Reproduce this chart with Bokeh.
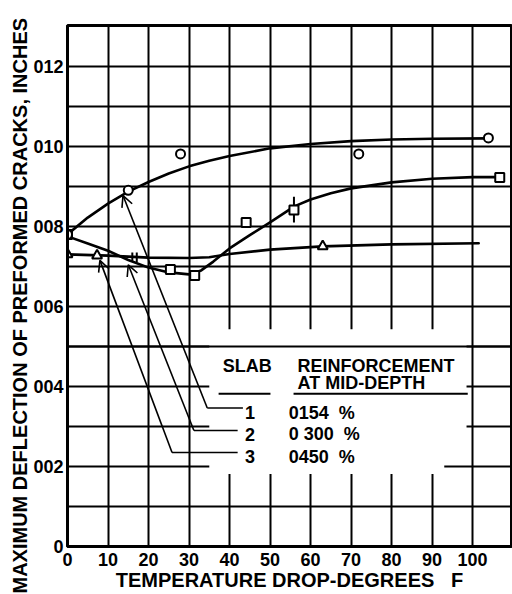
from bokeh.plotting import figure
from bokeh.models import (FixedTicker, CustomJSTickFormatter, Title, Arrow, OpenHead,
                          ColumnDataSource, Span)
from bokeh.core.properties import value
from bokeh.embed import file_html
from bokeh.resources import INLINE

# ---------------- data ----------------
X_TICKS = [0, 10, 20, 30, 40, 50, 60, 70, 80, 90, 100]
Y_TICKS = [0.0, 0.002, 0.004, 0.006, 0.008, 0.010, 0.012]
Y_TICK_LABELS = ["0", "002", "004", "006", "008", "010", "012"]
Y_GRID = [0.001, 0.002, 0.003, 0.004, 0.005, 0.006, 0.007, 0.008, 0.009,
          0.010, 0.011, 0.012]
X_TITLE = "TEMPERATURE DROP-DEGREES\u00a0\u00a0\u00a0F"
Y_TITLE = "MAXIMUM DEFLECTION OF PREFORMED CRACKS, INCHES"

# slab 1 : 0.154 %  (circles)
CURVE1_X = [0, 5, 10, 15, 20, 25, 30, 35, 40, 50, 60, 70, 80, 90, 104]
CURVE1_Y = [0.0078, 0.00822, 0.00857, 0.00887, 0.00911, 0.00932, 0.0095,
            0.00964, 0.00976, 0.00995, 0.01006, 0.01013, 0.01017, 0.01019, 0.0102]
CIRCLE_X = [0, 15, 27.9, 71.9, 103.9]
CIRCLE_Y = [0.0078, 0.0089, 0.00981, 0.00981, 0.01021]

# slab 2 : 0.300 %  (squares)
CURVE2_X = [0, 5, 10, 15, 20, 25, 30, 33, 36, 40, 45, 50, 56, 60, 65, 70, 80,
            90, 100, 106.7]
CURVE2_Y = [0.00775, 0.00757, 0.00739, 0.00716, 0.00697, 0.00685, 0.0068,
            0.0069, 0.00712, 0.00745, 0.00778, 0.0081, 0.0085, 0.00867, 0.00883,
            0.00895, 0.0091, 0.00919, 0.00923, 0.00923]
SQUARE_X = [0, 25.4, 31.4, 44.1, 55.9, 106.7]
SQUARE_Y = [0.0078, 0.00692, 0.00677, 0.0081, 0.00841, 0.00922]
ERR_X = [55.9]
ERR_LO = [0.0081]
ERR_HI = [0.00874]

# slab 3 : 0.450 %  (triangles)
CURVE3_X = [0, 10, 20, 30, 35, 40, 50, 63, 80, 101.5]
CURVE3_Y = [0.0073, 0.00727, 0.00722, 0.00721, 0.00723, 0.00731, 0.00742,
            0.0075, 0.00755, 0.00758]
TRIANGLE_X = [0, 7.3, 63]
TRIANGLE_Y = [0.0073, 0.00727, 0.0075]
MARK_X = [16.0, 17.1]
MARK_LO = [0.00711, 0.00711]
MARK_HI = [0.00735, 0.00735]

# legend table
BOX_LEFT = [35.0, 35.0]
BOX_RIGHT = [98.5, 93.0]
BOX_BOTTOM = [0.0024, 0.00181]
BOX_TOP = [0.00543, 0.0026]
HEAD_TEXT = ["SLAB", "REINFORCEMENT", "AT MID-DEPTH"]
HEAD_X = [38.3, 56.8, 56.8]
HEAD_Y = [0.00452, 0.00452, 0.00408]
ULINE_X0 = [37.3, 55.8]
ULINE_X1 = [50.1, 98.8]
ULINE_Y = [0.00382, 0.00382]
SLAB_IDS = ["1", "2", "3"]
SLAB_PCTS = ["0154\u00a0\u00a0%", "0\u00a0300\u00a0\u00a0%", "0450\u00a0\u00a0%"]
ROW_Y = [0.00334, 0.00280, 0.00224]
ID_X = 43.8
PCT_X = 54.6

# leader lines from the legend rows to the curves
LEADER_Y = [0.00346, 0.0029, 0.00235]
LEADER_END_X = [43.3, 42.0, 42.0]
LEADER_BEND_X = [34.5, 31.2, 25.8]
TIP_X = [13.7, 15.0, 8.0]
TIP_Y = [0.00877, 0.00704, 0.00715]

FONT = "Liberation Sans"

# ---------------- figure ----------------
p = figure(width=512, height=594, x_range=(0, 109.6), y_range=(0, 0.01302),
           output_backend="svg", toolbar_location=None,
           min_border_left=67, min_border_right=1, min_border_top=25,
           min_border_bottom=48)
p.background_fill_color = "white"
p.border_fill_color = "white"
p.outline_line_color = "black"
p.outline_line_width = 3
p.outline_line_alpha = 1

# axes
p.xaxis.ticker = FixedTicker(ticks=X_TICKS)
p.yaxis.ticker = FixedTicker(ticks=Y_TICKS)
p.yaxis.formatter = CustomJSTickFormatter(
    args=dict(yvals=Y_TICKS, ylabels=Y_TICK_LABELS),
    code="""
    for (let i = 0; i < yvals.length; i++) {
        if (Math.abs(yvals[i] - tick) < 1e-9) { return ylabels[i]; }
    }
    return "";
""")
for ax in (p.xaxis, p.yaxis):
    ax.axis_line_width = 3
    ax.axis_line_color = "black"
    ax.major_tick_line_color = None
    ax.minor_tick_line_color = None
    ax.major_tick_out = 0
    ax.major_tick_in = 0
    ax.major_label_text_font = FONT
    ax.major_label_text_font_style = "bold"
    ax.major_label_text_font_size = "18px"
    ax.major_label_text_color = "black"
p.xaxis.major_label_standoff = 6
p.yaxis.major_label_standoff = 4
p.xaxis.axis_label = X_TITLE
p.xaxis.axis_label_standoff = 0
p.xaxis.axis_label_text_font = FONT
p.xaxis.axis_label_text_font_style = "bold"
p.xaxis.axis_label_text_font_size = "20px"
p.xaxis.axis_label_text_color = "black"
p.xaxis.major_label_text_line_height = 0.9
p.xaxis.axis_label_text_line_height = 0.9

p.add_layout(Title(text=Y_TITLE, align="left", offset=-47, standoff=0,
                   text_font=FONT, text_font_style="bold", text_font_size="20px",
                   text_color="black"), "left")

# grid
p.xgrid.ticker = FixedTicker(ticks=X_TICKS)
p.ygrid.ticker = FixedTicker(ticks=Y_GRID)
p.xgrid.grid_line_color = "black"
p.ygrid.grid_line_color = "black"
p.xgrid.grid_line_width = 2
p.ygrid.grid_line_width = 2
p.xgrid.grid_line_alpha = 1
p.ygrid.grid_line_alpha = 1

# white legend area
p.quad(left=BOX_LEFT, right=BOX_RIGHT, bottom=BOX_BOTTOM, top=BOX_TOP,
       fill_color="white", line_color=None)
p.add_layout(Span(location=Y_GRID[4], dimension="width", line_color="black",
                  line_width=2))

# curves
for cx, cy in ((CURVE1_X, CURVE1_Y), (CURVE2_X, CURVE2_Y), (CURVE3_X, CURVE3_Y)):
    p.line(cx, cy, line_color="black", line_width=2.6, line_join="round",
           line_cap="round")

# leader lines
p.segment(x0=LEADER_BEND_X, y0=LEADER_Y, x1=LEADER_END_X, y1=LEADER_Y,
          line_color="black", line_width=1.6)
arrow_src = ColumnDataSource(dict(bx=LEADER_BEND_X, by=LEADER_Y, tx=TIP_X, ty=TIP_Y))
p.add_layout(Arrow(end=OpenHead(size=11, line_width=1.6, line_color="black"),
                   x_start="bx", y_start="by", x_end="tx", y_end="ty",
                   source=arrow_src, line_color="black", line_width=1.6))

# error bar and tick marks
p.segment(x0=ERR_X, y0=ERR_LO, x1=ERR_X, y1=ERR_HI, line_color="black", line_width=2)
p.segment(x0=MARK_X, y0=MARK_LO, x1=MARK_X, y1=MARK_HI, line_color="black",
          line_width=2)

# markers
p.scatter(SQUARE_X, SQUARE_Y, marker="square", size=9, fill_color="white",
          line_color="black", line_width=2)
p.scatter(CIRCLE_X, CIRCLE_Y, marker="circle", size=9, fill_color="white",
          line_color="black", line_width=2)
p.scatter(TRIANGLE_X, TRIANGLE_Y, marker="triangle", size=10, fill_color="white",
          line_color="black", line_width=2)

# legend table text
p.text(x=HEAD_X, y=HEAD_Y, text=HEAD_TEXT, text_font=value(FONT),
       text_font_style="bold", text_font_size="18px", text_align="left",
       text_baseline="alphabetic", text_color="black")
p.segment(x0=ULINE_X0, y0=ULINE_Y, x1=ULINE_X1, y1=ULINE_Y, line_color="black",
          line_width=2)
p.text(x=[ID_X] * 3, y=ROW_Y, text=SLAB_IDS, text_font=value(FONT),
       text_font_style="bold", text_font_size="18px", text_align="left",
       text_baseline="alphabetic", text_color="black")
p.text(x=[PCT_X] * 3, y=ROW_Y, text=SLAB_PCTS, text_font=value(FONT),
       text_font_style="bold", text_font_size="18px", text_align="left",
       text_baseline="alphabetic", text_color="black")

open("out.html", "w").write(file_html(p, INLINE))
